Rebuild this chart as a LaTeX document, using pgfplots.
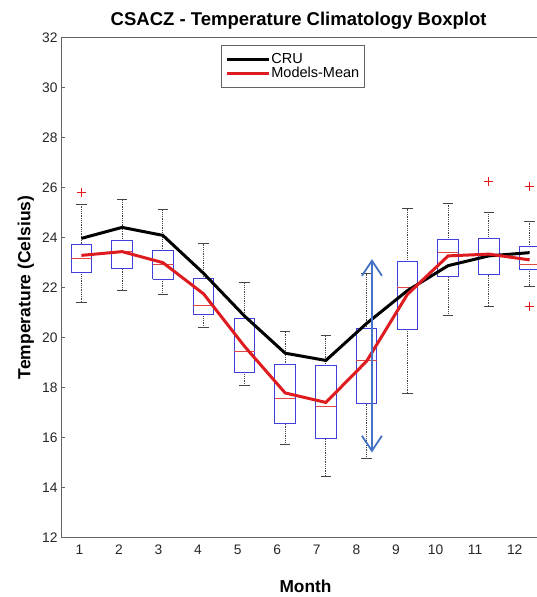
\documentclass[border=0pt]{standalone}
\usepackage{fontspec}
\setmainfont{Liberation Sans}
\usepackage{pgfplots}
\pgfplotsset{compat=1.18}
\usetikzlibrary{arrows.meta}
\definecolor{boxblue}{rgb}{0.25,0.25,0.85}
\definecolor{medred}{rgb}{0.88,0.27,0.27}
\definecolor{linered}{rgb}{0.87,0.11,0.125}
\definecolor{arrowblue}{rgb}{0.267,0.447,0.769}
\definecolor{axisgray}{rgb}{0.39,0.39,0.39}
\definecolor{whisk}{rgb}{0.27,0.27,0.27}
\definecolor{outred}{rgb}{0.9,0.1,0.1}
\begin{document}
\begin{tikzpicture}
\begin{axis}[
  scale only axis, width=489pt, height=500.2pt,
  xmin=0.5, xmax=12.5, ymin=12, ymax=32,
  clip=false,
  unbounded coords=jump,
  axis line style={draw=axisgray, line width=0.9pt},
  xtick={0.95,1.921,2.893,3.864,4.835,5.807,6.778,7.749,8.720,9.692,10.663,11.634},
  xticklabels={1,2,3,4,5,6,7,8,9,10,11,12},
  xtick style={draw=none},
  xticklabel style={yshift=-4pt},
  ytick={12,14,...,32},
  ytick style={draw=axisgray, line width=0.8pt},
  major tick length=4pt,
  tick align=inside,
  /pgf/number format/assume math mode=true,
  tick label style={font=\fontsize{13.8}{14}\selectfont, text=black!85},
  title={CSACZ - Temperature Climatology Boxplot},
  title style={font=\bfseries\fontsize{18.5}{20}\selectfont, at={(0.486,1)}, anchor=base, yshift=5.3pt},
  xlabel={Month},
  xlabel style={font=\bfseries\fontsize{17.3}{18}\selectfont, at={(axis description cs:0.5,-0.097)}, anchor=center},
  ylabel={Temperature (Celsius)},
  ylabel style={font=\bfseries\fontsize{17.5}{18}\selectfont, at={(axis description cs:-0.072,0.5)}, anchor=center},
  legend style={at={(0.474,0.9846)}, anchor=north, draw=axisgray, line width=0.8pt,
    font=\fontsize{14.5}{14.5}\selectfont, inner xsep=4pt, inner ysep=7pt,
    nodes={inner sep=1pt, text height=10.5pt, text depth=1.5pt}, row sep=0pt},
  legend cell align=left,
  legend image code/.code={\draw[#1] (0pt,0pt) -- (42pt,0pt);},
]
% whiskers (dotted): upper quartile -> upper whisker, lower quartile -> lower whisker
\addplot[forget plot, draw=whisk, line width=0.8pt, densely dotted] coordinates {
 (1,23.73) (1,25.32) (1,nan) (1,22.60) (1,21.41) (1,nan)
 (2,23.87) (2,25.50) (2,nan) (2,22.74) (2,21.87) (2,nan)
 (3,23.46) (3,25.13) (3,nan) (3,22.33) (3,21.73) (3,nan)
 (4,22.35) (4,23.76) (4,nan) (4,20.92) (4,20.42) (4,nan)
 (5,20.76) (5,22.20) (5,nan) (5,18.60) (5,18.07) (5,nan)
 (6,18.90) (6,20.25) (6,nan) (6,16.55) (6,15.71) (6,nan)
 (7,18.88) (7,20.09) (7,nan) (7,15.94) (7,14.45) (7,nan)
 (8,20.36) (8,22.54) (8,nan) (8,17.35) (8,15.18) (8,nan)
 (9,23.04) (9,25.15) (9,nan) (9,20.33) (9,17.76) (9,nan)
 (10,23.91) (10,25.37) (10,nan) (10,22.42) (10,20.87) (10,nan)
 (11,23.96) (11,25.00) (11,nan) (11,22.51) (11,21.25) (11,nan)
 (12,23.62) (12,24.64) (12,nan) (12,22.73) (12,22.03)};
% whisker caps
\addplot[forget plot, draw=whisk, line width=0.8pt] coordinates {
 (0.87,25.32) (1.13,25.32) (1,nan) (0.87,21.41) (1.13,21.41) (1,nan)
 (1.87,25.50) (2.13,25.50) (2,nan) (1.87,21.87) (2.13,21.87) (2,nan)
 (2.87,25.13) (3.13,25.13) (3,nan) (2.87,21.73) (3.13,21.73) (3,nan)
 (3.87,23.76) (4.13,23.76) (4,nan) (3.87,20.42) (4.13,20.42) (4,nan)
 (4.87,22.20) (5.13,22.20) (5,nan) (4.87,18.07) (5.13,18.07) (5,nan)
 (5.87,20.25) (6.13,20.25) (6,nan) (5.87,15.71) (6.13,15.71) (6,nan)
 (6.87,20.09) (7.13,20.09) (7,nan) (6.87,14.45) (7.13,14.45) (7,nan)
 (7.87,22.54) (8.13,22.54) (8,nan) (7.87,15.18) (8.13,15.18) (8,nan)
 (8.87,25.15) (9.13,25.15) (9,nan) (8.87,17.76) (9.13,17.76) (9,nan)
 (9.87,25.37) (10.13,25.37) (10,nan) (9.87,20.87) (10.13,20.87) (10,nan)
 (10.87,25.00) (11.13,25.00) (11,nan) (10.87,21.25) (11.13,21.25) (11,nan)
 (11.87,24.64) (12.13,24.64) (12,nan) (11.87,22.03) (12.13,22.03)};
% boxes: lower quartile to upper quartile
\addplot[forget plot, draw=boxblue, line width=1pt] coordinates {
 (0.75,22.60) (1.25,22.60) (1.25,23.73) (0.75,23.73) (0.75,22.60) (1,nan)
 (1.75,22.74) (2.25,22.74) (2.25,23.87) (1.75,23.87) (1.75,22.74) (2,nan)
 (2.75,22.33) (3.25,22.33) (3.25,23.46) (2.75,23.46) (2.75,22.33) (3,nan)
 (3.75,20.92) (4.25,20.92) (4.25,22.35) (3.75,22.35) (3.75,20.92) (4,nan)
 (4.75,18.60) (5.25,18.60) (5.25,20.76) (4.75,20.76) (4.75,18.60) (5,nan)
 (5.75,16.55) (6.25,16.55) (6.25,18.90) (5.75,18.90) (5.75,16.55) (6,nan)
 (6.75,15.94) (7.25,15.94) (7.25,18.88) (6.75,18.88) (6.75,15.94) (7,nan)
 (7.75,17.35) (8.25,17.35) (8.25,20.36) (7.75,20.36) (7.75,17.35) (8,nan)
 (9.75,22.42) (10.25,22.42) (10.25,23.91) (9.75,23.91) (9.75,22.42) (10,nan)
 (10.75,22.51) (11.25,22.51) (11.25,23.96) (10.75,23.96) (10.75,22.51) (11,nan)
 (11.75,22.73) (12.25,22.73) (12.25,23.62) (11.75,23.62) (11.75,22.73)};
\addplot[forget plot, draw=boxblue, line width=1.05pt] coordinates {
 (8.751,20.33) (9.251,20.33) (9.251,23.04) (8.751,23.04) (8.751,20.33)};
% medians
\addplot[forget plot, draw=medred, line width=0.8pt] coordinates {
 (0.75,23.14) (1.25,23.14) (1,nan) (1.75,23.45) (2.25,23.45) (2,nan)
 (2.75,22.93) (3.25,22.93) (3,nan) (3.75,21.30) (4.25,21.30) (4,nan)
 (4.75,19.46) (5.25,19.46) (5,nan) (5.75,17.55) (6.25,17.55) (6,nan)
 (6.75,17.24) (7.25,17.24) (7,nan) (7.75,19.09) (8.25,19.09) (8,nan)
 (8.75,22.00) (9.25,22.00) (9,nan) (9.75,23.40) (10.25,23.40) (10,nan)
 (10.75,23.30) (11.25,23.30) (11,nan) (11.75,22.90) (12.25,22.90)};
% outliers
\addplot[forget plot, only marks, draw=outred, mark=+, mark size=4.5pt, mark options={solid, line width=0.9pt, draw=outred}]
  coordinates {(1,25.80) (11,26.24) (12,26.02) (12,21.23)};
\addplot[draw=black, line width=3pt] coordinates {
  (1,23.96) (2,24.40) (3,24.08) (4,22.56) (5,20.86) (6,19.37)
  (7,19.08) (8,20.56) (9,21.87) (10,22.87) (11,23.26) (12,23.39)};
\addlegendentry{CRU}
\addplot[draw=linered, line width=3pt] coordinates {
  (1,23.28) (2,23.43) (3,22.99) (4,21.74) (5,19.65) (6,17.78)
  (7,17.40) (8,19.05) (9,21.72) (10,23.26) (11,23.33) (12,23.10)};
\addlegendentry{Models-Mean}
\addplot[forget plot, draw=arrowblue, line width=1.8pt,
  {Straight Barb[length=15pt,width=20pt,line width=1.8pt]}-{Straight Barb[length=15pt,width=20pt,line width=1.8pt]}]
  coordinates {(8.13,15.40) (8.13,23.13)};
\end{axis}
\pgfresetboundingbox
\useasboundingbox (-61pt,-59.5pt) rectangle (475pt,537.5pt);
\end{tikzpicture}
\end{document}
